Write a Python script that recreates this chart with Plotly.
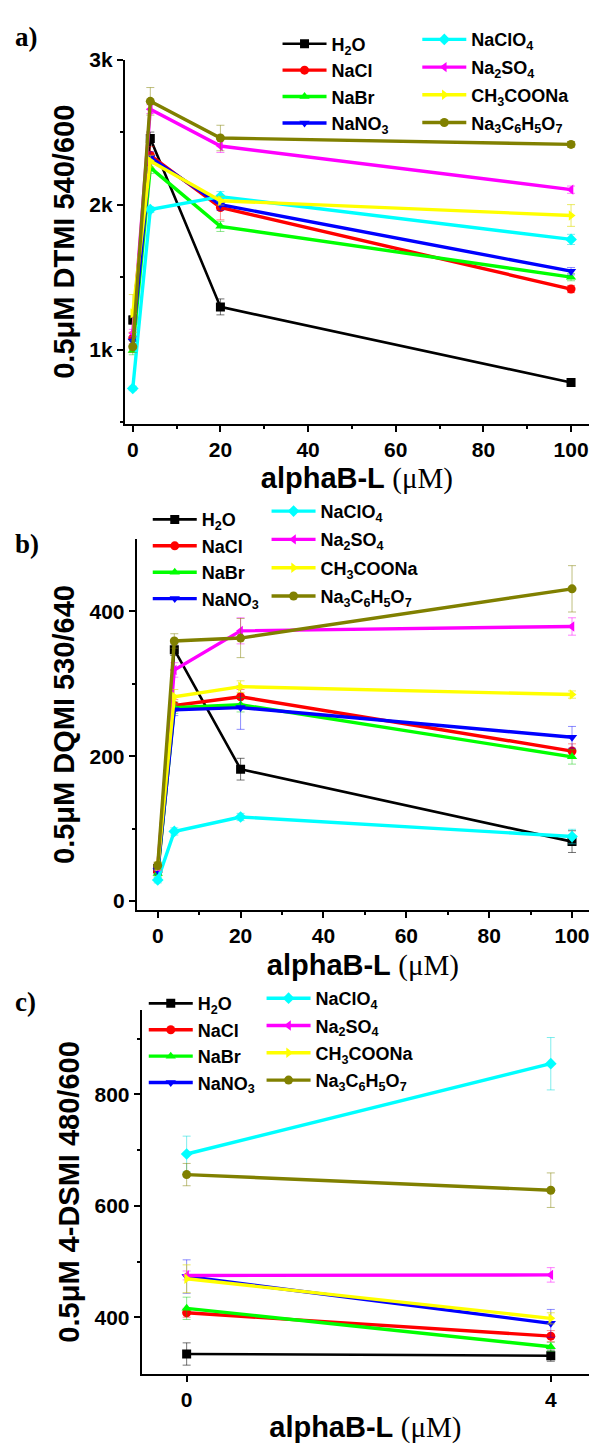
import plotly.graph_objects as go

W, H = 597, 1444

# ---------------- data ----------------
series_labels = ["H<sub>2</sub>O", "NaCl", "NaBr", "NaNO<sub>3</sub>",
                 "NaClO<sub>4</sub>", "Na<sub>2</sub>SO<sub>4</sub>", "CH<sub>3</sub>COONa",
                 "Na<sub>3</sub>C<sub>6</sub>H<sub>5</sub>O<sub>7</sub>"]

x_ab = [0, 4, 20, 100]
x_c = [0, 4]

# panel a: 0.5uM DTMI 540/600
a_h2o = [1205, 2455, 1295, 774]
a_nacl = [1080, 2340, 1980, 1418]
a_nabr = [995, 2255, 1850, 1500]
a_nano3 = [1060, 2325, 2000, 1541]
a_naclo4 = [733, 1966, 2055, 1760]
a_na2so4 = [1115, 2658, 2404, 2103]
a_ch3coona = [1250, 2300, 2027, 1925]
a_citrate = [1020, 2712, 2459, 2415]
a_err_h2o = [30, 45, 55, 20]
a_err_nacl = [40, 60, 85, 25]
a_err_nabr = [30, 40, 35, 25]
a_err_nano3 = [30, 40, 40, 25]
a_err_naclo4 = [15, 20, 35, 35]
a_err_na2so4 = [25, 30, 45, 25]
a_err_ch3coona = [130, 40, 30, 75]
a_err_citrate = [40, 95, 88, 20]

# panel b: 0.5uM DQMI 530/640
b_h2o = [45, 347, 182, 82]
b_nacl = [40, 270, 282, 207]
b_nabr = [38, 267, 271, 199]
b_nano3 = [42, 264, 267, 226]
b_naclo4 = [29, 96, 116, 89]
b_na2so4 = [47, 319, 373, 379]
b_ch3coona = [48, 282, 296, 285]
b_citrate = [49, 359, 363, 431]
b_err_h2o = [5, 8, 15, 15]
b_err_nacl = [5, 8, 10, 10]
b_err_nabr = [5, 8, 10, 10]
b_err_nano3 = [5, 8, 30, 15]
b_err_naclo4 = [4, 5, 5, 10]
b_err_na2so4 = [5, 10, 18, 12]
b_err_ch3coona = [5, 10, 8, 5]
b_err_citrate = [5, 10, 27, 32]

# panel c: 0.5uM 4-DSMI 480/600
c_h2o = [334, 331]
c_nacl = [408, 366]
c_nabr = [416, 347]
c_nano3 = [473, 389]
c_naclo4 = [693, 855]
c_na2so4 = [475, 476]
c_ch3coona = [469, 398]
c_citrate = [656, 628]
c_err_h2o = [20, 10]
c_err_nacl = [8, 10]
c_err_nabr = [20, 8]
c_err_nano3 = [30, 25]
c_err_naclo4 = [32, 47]
c_err_na2so4 = [8, 13]
c_err_ch3coona = [25, 10]
c_err_citrate = [20, 31]

a_ticks = [1000, 2000, 3000]
a_ticktext = ["1k", "2k", "3k"]
b_ticks = [0, 200, 400]
c_ticks = [400, 600, 800]
ab_xticks = [0, 20, 40, 60, 80, 100]
c_xticks = [0, 4]

# ---------------- style ----------------
colors = ["#000000", "#FF0000", "#00FF00", "#0000FF", "#00FFFF", "#FF00FF", "#FFFF00", "#808000"]
err_colors = ["rgba(0,0,0,0.55)", "rgba(255,0,0,0.45)", "rgba(0,200,0,0.45)", "rgba(0,0,255,0.45)",
              "rgba(0,220,220,0.5)", "rgba(255,0,255,0.5)", "rgba(220,220,0,0.6)", "rgba(128,128,0,0.5)"]
symbols = ["square", "circle", "triangle-up", "triangle-down", "diamond", "triangle-left",
           "triangle-right", "circle"]

SANS = "Liberation Sans, Arial, sans-serif"
SERIF = "Liberation Serif, Times New Roman, serif"

panels = [
    dict(x=x_ab,
         ys=[a_h2o, a_nacl, a_nabr, a_nano3, a_naclo4, a_na2so4, a_ch3coona, a_citrate],
         es=[a_err_h2o, a_err_nacl, a_err_nabr, a_err_nano3, a_err_naclo4, a_err_na2so4,
             a_err_ch3coona, a_err_citrate]),
    dict(x=x_ab,
         ys=[b_h2o, b_nacl, b_nabr, b_nano3, b_naclo4, b_na2so4, b_ch3coona, b_citrate],
         es=[b_err_h2o, b_err_nacl, b_err_nabr, b_err_nano3, b_err_naclo4, b_err_na2so4,
             b_err_ch3coona, b_err_citrate]),
    dict(x=x_c,
         ys=[c_h2o, c_nacl, c_nabr, c_nano3, c_naclo4, c_na2so4, c_ch3coona, c_citrate],
         es=[c_err_h2o, c_err_nacl, c_err_nabr, c_err_nano3, c_err_naclo4, c_err_na2so4,
             c_err_ch3coona, c_err_citrate]),
]

fig = go.Figure()

for p, panel in enumerate(panels):
    ax = "" if p == 0 else str(p + 1)
    for i in range(8):
        leg_idx = 2 * p + (0 if i < 4 else 1)
        leg = "legend" if leg_idx == 0 else "legend%d" % (leg_idx + 1)
        fig.add_trace(go.Scatter(
            x=panel["x"], y=panel["ys"][i],
            mode="lines+markers",
            name=series_labels[i],
            legend=leg,
            legendgroup="p%d_%d" % (p, i),
            line=dict(color=colors[i], width=2.6 if i == 0 else 3.4),
            marker=dict(symbol=symbols[i], size=9, color=colors[i]),
            error_y=dict(type="data", array=panel["es"][i], color=err_colors[i],
                         thickness=1, width=4),
            xaxis="x" + ax, yaxis="y" + ax,
        ))


def ydom(top_px, bot_px):
    return [1 - bot_px / H, 1 - top_px / H]


def xdom(l_px, r_px):
    return [l_px / W, r_px / W]


axis_common = dict(showline=True, linecolor="black", linewidth=2, ticks="outside",
                   ticklen=6, tickwidth=2, tickcolor="black", showgrid=False,
                   zeroline=False, mirror=False,
                   tickfont=dict(family=SANS, size=21, color="black", weight="bold"))

xtitle = ("alphaB-L <span style=\"font-family:'Liberation Serif',serif;font-weight:normal\">"
          "(\u03bcM)</span>")

def xt():
    return dict(text=xtitle, font=dict(family=SANS, size=29, color="black", weight="bold"),
                standoff=8)

def yt(t):
    return dict(text=t, font=dict(family=SANS, size=29, color="black", weight="bold"),
                standoff=6)

minor_common = dict(ticks="outside", ticklen=3, tickwidth=2, tickcolor="black", showgrid=False)

fig.update_layout(
    xaxis=dict(domain=xdom(125, 590), range=[-1.82, 104.1], tickvals=ab_xticks,
               anchor="y", title=xt(), minor=dict(dtick=10, **minor_common), **axis_common),
    yaxis=dict(domain=ydom(48, 416), range=[488, 3000], tickvals=a_ticks, ticktext=a_ticktext,
               anchor="x", title=yt("0.5\u03bcM DTMI 540/600"),
               minor=dict(tickvals=[500, 1500, 2500], **minor_common), **axis_common),
    xaxis2=dict(domain=xdom(137, 590), range=[-5.06, 104.1], tickvals=ab_xticks,
                anchor="y2", title=xt(), minor=dict(dtick=10, **minor_common), **axis_common),
    yaxis2=dict(domain=ydom(532, 907), range=[-12.7, 500], tickvals=b_ticks,
                anchor="x2", title=yt("0.5\u03bcM DQMI 530/640"),
                minor=dict(tickvals=[100, 300], **minor_common), **axis_common),
    xaxis3=dict(domain=xdom(142, 590), range=[-0.493, 4.42], tickvals=c_xticks,
                anchor="y3", title=xt(), **axis_common),
    yaxis3=dict(domain=ydom(1008, 1375), range=[298.7, 951], tickvals=c_ticks,
                anchor="x3", title=yt("0.5\u03bcM 4-DSMI 480/600"),
                minor=dict(tickvals=[500, 700, 900], **minor_common), **axis_common),
)

# legends: two columns per panel (left px, top px, gap between rows)
leg_font = dict(family=SANS, size=18, color="black", weight="bold")
leg_pos = [(278, 13.7, 0), (418, 9.3, 1.3), (148, 494, 0), (267, 485.6, 1.9),
           (144, 982.7, 0), (262, 977.5, 0.9)]
for k, (lx, ly, gap) in enumerate(leg_pos):
    name = "legend" if k == 0 else "legend%d" % (k + 1)
    fig.update_layout({name: dict(x=lx / W, y=1 - ly / H, xanchor="left", yanchor="top",
                                  bgcolor="rgba(0,0,0,0)", font=leg_font, itemwidth=44,
                                  tracegroupgap=gap, traceorder="grouped")})

# panel labels
for lab, yy in [("a)", 25), ("b)", 537), ("c)", 1000)]:
    fig.add_annotation(text="<b>%s</b>" % lab, x=13 / W, y=1 - yy / H, xref="paper", yref="paper",
                       xanchor="left", yanchor="middle", showarrow=False,
                       font=dict(family=SERIF, size=27, color="black"))

fig.update_layout(width=W, height=H, margin=dict(l=0, r=0, t=0, b=0),
                  paper_bgcolor="white", plot_bgcolor="white", showlegend=True)

fig.write_html("out.html")
